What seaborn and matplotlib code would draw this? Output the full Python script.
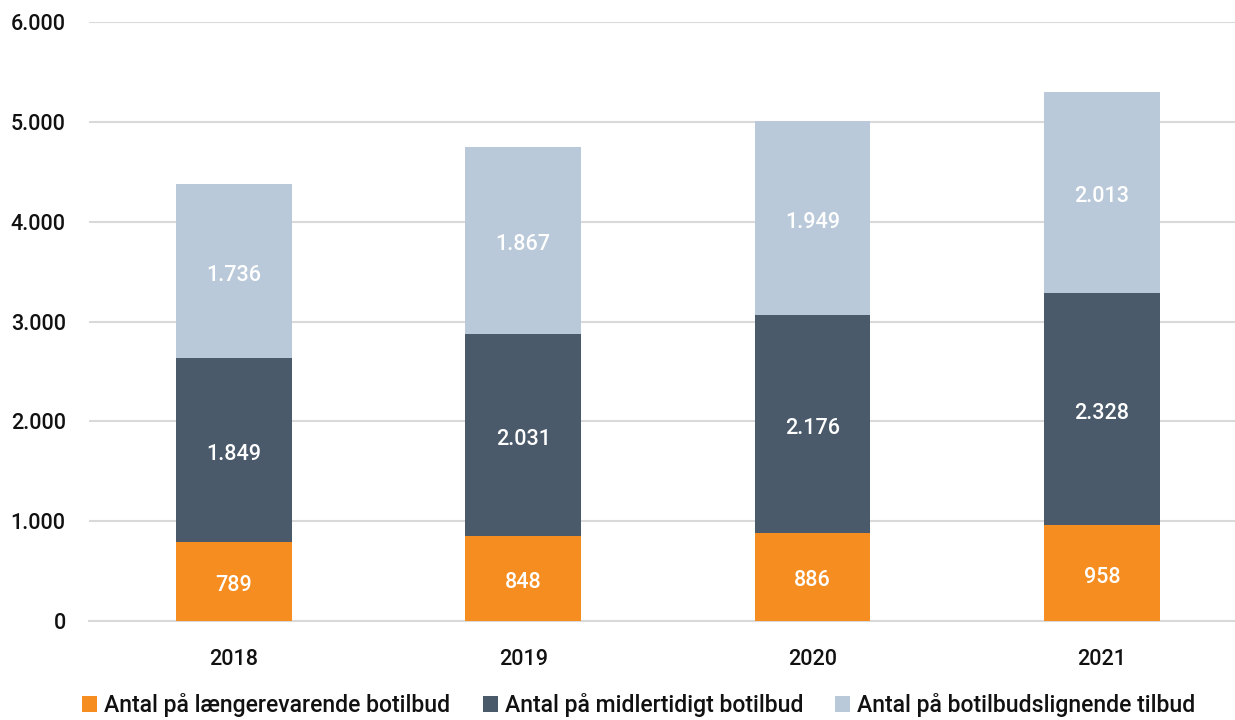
import matplotlib
matplotlib.use("Agg")
import matplotlib.pyplot as plt
import seaborn as sns
import pandas as pd

years = ["2018", "2019", "2020", "2021"]
laengerevarende = [789, 848, 886, 958]
midlertidigt = [1849, 2031, 2176, 2328]
botilbudslignende = [1736, 1867, 1949, 2013]
series_names = [
    "Antal på længerevarende botilbud",
    "Antal på midlertidigt botilbud",
    "Antal på botilbudslignende tilbud",
]
colors = ["#F58D21", "#4A5A6B", "#B9C9D9"]


def fmt(v):
    return f"{v:,}".replace(",", ".")


def main():
    sns.set_style("white")
    plt.rcParams["font.family"] = ["Roboto", "DejaVu Sans"]
    plt.rcParams["font.weight"] = "medium"

    fig = plt.figure(figsize=(12.35, 7.2), dpi=100)
    ax = fig.add_axes([0.0723, 0.1375, 0.937, 0.8319])

    df = pd.DataFrame({"year": years})
    bottom = [0, 0, 0, 0]
    for name, vals, col in zip(series_names, [laengerevarende, midlertidigt, botilbudslignende], colors):
        df["v"] = vals
        sns.barplot(data=df, x="year", y="v", color=col, bottom=bottom, width=0.4,
                    saturation=1, ax=ax, label=name, zorder=3, linewidth=0)
        cont = ax.containers[-1]
        ax.bar_label(cont, labels=[fmt(v) for v in vals], label_type="center",
                     color="white", fontsize=15.5, fontweight="medium", padding=-3)
        bottom = [b + v for b, v in zip(bottom, vals)]

    ax.set_ylim(0, 6000)
    ax.set_xlim(-0.5, 3.5)
    ax.set_yticks(range(0, 6001, 1000))
    ax.set_yticklabels([fmt(v) for v in range(0, 6001, 1000)])
    ax.yaxis.grid(True, color="#D9D9D9", linewidth=1.5, zorder=0)
    ax.set_axisbelow(True)
    for s in ["top", "right", "left"]:
        ax.spines[s].set_visible(False)
    ax.spines["bottom"].set_color("#D9D9D9")
    ax.spines["bottom"].set_linewidth(1.5)
    ax.tick_params(axis="y", length=0, pad=17, labelsize=15.5, labelcolor="#111111")
    ax.tick_params(axis="x", length=0, pad=20, labelsize=15.5, labelcolor="#111111")
    ax.set_xlabel("")
    ax.set_ylabel("")

    leg = ax.legend(loc="lower center", bbox_to_anchor=(0.475, -0.195), ncol=3, frameon=False,
                    fontsize=16.6, handlelength=0.65, handleheight=0.65, handletextpad=0.3,
                    columnspacing=1.4)
    for t in leg.get_texts():
        t.set_color("#111111")

    fig.savefig("out.png", dpi=100)


if __name__ == "__main__":
    main()
